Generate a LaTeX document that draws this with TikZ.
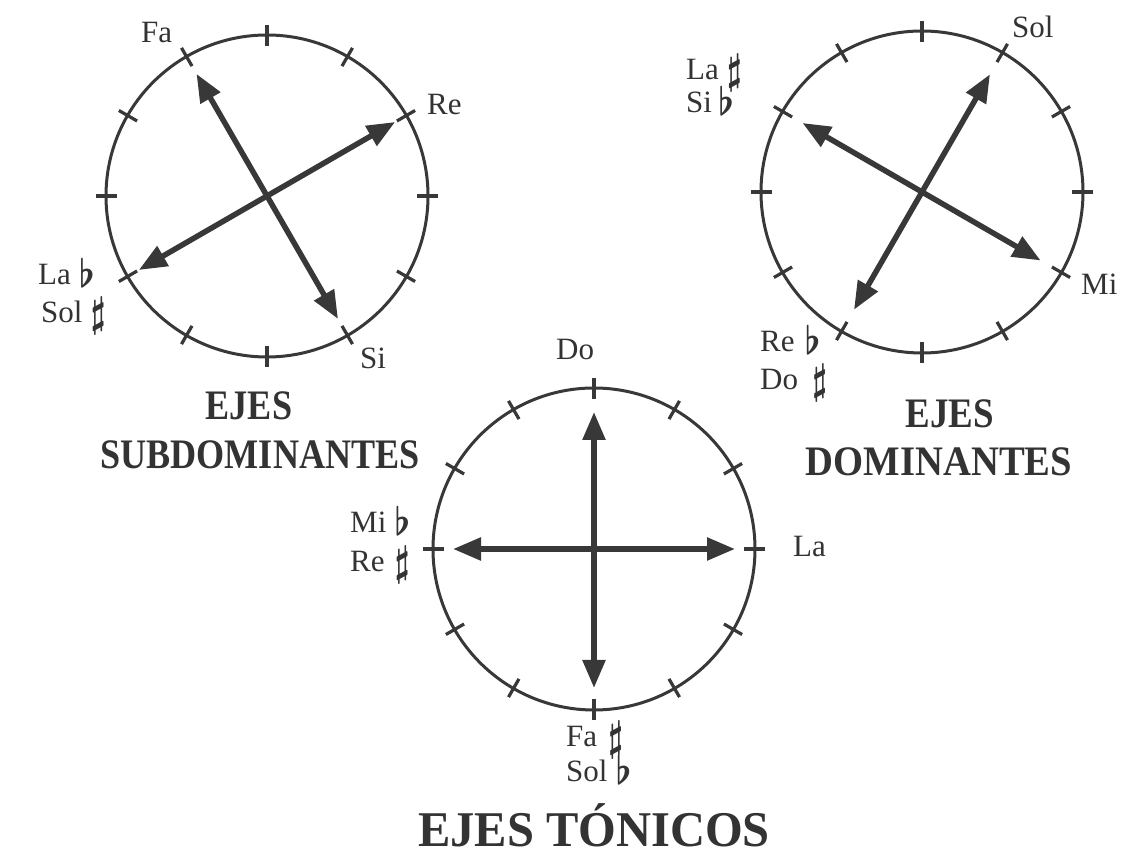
\documentclass[tikz,border=0pt]{standalone}
\usepackage{fontspec}
\usepackage{graphicx}
\setmainfont{Liberation Serif}
\usetikzlibrary{arrows.meta,calc}
\definecolor{ink}{HTML}{383838}
\definecolor{txt}{HTML}{333333}
\newcommand\accsharp{\raisebox{-4pt}{\scalebox{3.4}[4.2]{\fontsize{10}{10}\selectfont\boldmath$\sharp$}}}
\newcommand\accflat{\raisebox{-3pt}{\scalebox{3.6}[3.9]{\fontsize{10}{10}\selectfont\boldmath$\flat$}}}
\tikzset{
  ring/.style={circle,draw=ink,line width=3pt,minimum size=322pt,inner sep=0pt},
  tickmark/.style={draw=ink,line width=3.2pt},
  axis/.style={draw=ink,line width=5.5pt,{Triangle[length=28pt,width=22pt]}-{Triangle[length=28pt,width=22pt]}},
  lab/.style={inner sep=0pt,anchor=base west,text=txt,font=\fontsize{31}{31}\selectfont},
  ttl/.style={inner sep=0pt,anchor=base,text=txt,font=\bfseries\fontsize{42}{42}\selectfont},
  bigttl/.style={inner sep=0pt,anchor=base,text=txt,font=\bfseries\fontsize{50}{50}\selectfont}
}
\begin{document}
\begin{tikzpicture}[x=1pt,y=1pt]
\fill[white] (0,0) rectangle (1144,859);
\useasboundingbox (0,0) rectangle (1144,859);

% circles
\node[ring] (c1) at (267,663) {};
\node[ring] (c2) at (922,667) {};
\node[ring] (c3) at (594,310) {};

% ticks
\foreach \c in {c1,c2,c3}{
  \foreach \a in {0,30,...,330}{
    \draw[tickmark] ($(\c)+(\a:150)$) -- ($(\c)+(\a:171)$);
  }
}

% axis end points
\coordinate (c1fa) at ($(c1)+(120:141)$);
\coordinate (c1si) at ($(c1)+(-60:142)$);
\coordinate (c1re) at ($(c1)+(30:148)$);
\coordinate (c1la) at ($(c1)+(210:148)$);
\coordinate (c2sol) at ($(c2)+(60:136)$);
\coordinate (c2reb) at ($(c2)+(240:136)$);
\coordinate (c2sib) at ($(c2)+(150:138)$);
\coordinate (c2mi) at ($(c2)+(-30:137)$);
\coordinate (c3do) at ($(c3)+(90:137)$);
\coordinate (c3fa) at ($(c3)+(270:139)$);
\coordinate (c3mib) at ($(c3)+(180:141)$);
\coordinate (c3la) at ($(c3)+(0:141)$);

% axes
\draw[axis] (c1fa) -- (c1si);
\draw[axis] (c1re) -- (c1la);
\draw[axis] (c2sol) -- (c2reb);
\draw[axis] (c2sib) -- (c2mi);
\draw[axis] (c3do) -- (c3fa);
\draw[axis] (c3mib) -- (c3la);

% labels circle 1
\node[lab] (lfa) at (141,816) {Fa};
\node[lab] (lre) at (427,744) {Re};
\node[lab] (lsi) at (360,490) {Si};
\node[lab] (llab) at (38,574) {La\hspace{8pt}\accflat};
\node[lab] (lsols) at (41,536) {Sol\hspace{8pt}\accsharp};

% labels circle 2
\node[lab] (lsol) at (1012,821) {Sol};
\node[lab] (llas) at (686,779) {La\hspace{8pt}\accsharp};
\node[lab] (lsib) at (686,746) {Si\hspace{6pt}\accflat};
\node[lab] (lmi) at (1081,564) {Mi};
\node[lab] (lreb) at (760,507) {Re\hspace{10pt}\accflat};
\node[lab] (ldos) at (760,469) {Do\hspace{14pt}\accsharp};

% labels circle 3
\node[lab] (ldo) at (556,499) {Do};
\node[lab] (lla) at (793,302) {La};
\node[lab] (lmib) at (350,326) {Mi\hspace{8pt}\accflat};
\node[lab] (lres) at (350,287) {Re\hspace{10pt}\accsharp};
\node[lab] (lfas) at (566,112) {Fa\hspace{11pt}\accsharp};
\node[lab] (lsolb) at (566,77) {Sol\hspace{8pt}\accflat};

% titles
\node[ttl] (t1a) at (249,439) {\scalebox{0.86}[1]{EJES}};
\node[ttl] (t1b) at (260,390) {\scalebox{0.86}[1]{SUBDOMINANTES}};
\node[ttl] (t2a) at (950,431) {\scalebox{0.88}[1]{EJES}};
\node[ttl] (t2b) at (939,383) {\scalebox{0.92}[1]{DOMINANTES}};
\node[bigttl] (t3) at (594,12) {\scalebox{0.97}[1]{EJES TÓNICOS}};
\end{tikzpicture}
\end{document}
